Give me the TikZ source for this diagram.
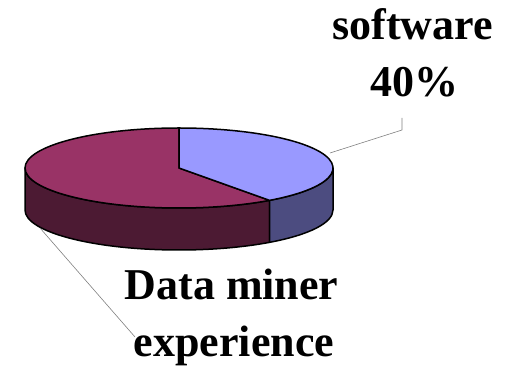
\documentclass[tikz,border=0pt]{standalone}
\usepackage{fontspec}
\setmainfont{Liberation Serif}
\definecolor{maroontop}{HTML}{993366}
\definecolor{maroonside}{HTML}{4C1A33}
\definecolor{bluetop}{HTML}{9999FF}
\definecolor{blueside}{HTML}{4C4C80}
\tikzset{
  pieedge/.style={draw=black, line width=1.5pt, line join=round},
  leader/.style={draw=gray, line width=0.6pt},
  pielabel/.style={anchor=base, inner sep=0pt, font=\bfseries\fontsize{44}{50}\selectfont},
}
\begin{document}
\begin{tikzpicture}[x=1pt,y=1pt]
\useasboundingbox (0,0) rectangle (519,366);
% pie geometry: centre of top face, radii, thickness
\def\rx{154}\def\ry{40}\def\depth{42}
\coordinate (c) at (179,198);
% visible side walls
\filldraw[pieedge, fill=maroonside] (c) ++(180:\rx pt and \ry pt) -- ++(0,-\depth)
  arc[start angle=180, end angle=306, x radius=\rx, y radius=\ry] -- ++(0,\depth)
  arc[start angle=306, end angle=180, x radius=\rx, y radius=\ry] -- cycle;
\filldraw[pieedge, fill=blueside] (c) ++(306:\rx pt and \ry pt) -- ++(0,-\depth)
  arc[start angle=306, end angle=360, x radius=\rx, y radius=\ry] -- ++(0,\depth)
  arc[start angle=360, end angle=306, x radius=\rx, y radius=\ry] -- cycle;
% top face sectors
\filldraw[pieedge, fill=maroontop] (c) -- ++(90:\rx pt and \ry pt)
  arc[start angle=90, end angle=306, x radius=\rx, y radius=\ry] -- cycle;
\filldraw[pieedge, fill=bluetop] (c) -- ++(306:\rx pt and \ry pt)
  arc[start angle=306, end angle=450, x radius=\rx, y radius=\ry] -- cycle;
% labels
\node[pielabel] (sw) at (412.5,326) {software};
\node[pielabel] (swpct) at (414,269) {40\%};
\node[pielabel] (dm) at (231.5,66) {Data miner};
\node[pielabel] (dmexp) at (234,9) {experience};
% leader lines
\coordinate (swrim) at (330,213);
\coordinate (swbend) at (402,236);
\coordinate (swend) at (402,248);
\coordinate (dmrim) at (40,138);
\coordinate (dmend) at (135,29);
\draw[leader] (swrim) -- (swbend) -- (swend);
\draw[leader] (dmrim) -- (dmend);
\end{tikzpicture}
\end{document}
